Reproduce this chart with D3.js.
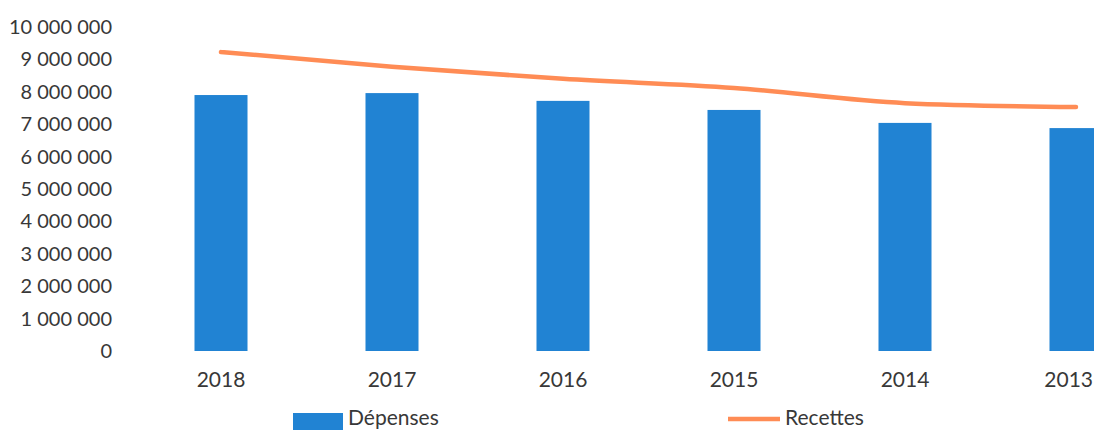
<!DOCTYPE html>
<html>
<head>
<meta charset="utf-8">
<script src="https://cdn.jsdelivr.net/npm/d3@7"></script>
<style>
  html, body { margin: 0; padding: 0; background: #fff; }
  svg { display: block; }
  text { font-family: Lato, "Noto Sans", sans-serif; fill: #383838; }
</style>
</head>
<body>
<svg id="chart" width="1094" height="430"></svg>
<script>
// Years shown from most recent to oldest
const years = ["2018", "2017", "2016", "2015", "2014", "2013"];
// Dépenses (bars)
const depenses = [7900000, 7960000, 7720000, 7440000, 7040000, 6880000];
// Recettes (line)
const recettes = [9230000, 8770000, 8400000, 8120000, 7650000, 7530000];
// Y-axis ticks
const yTicks = [0, 1000000, 2000000, 3000000, 4000000, 5000000, 6000000, 7000000, 8000000, 9000000, 10000000];

const W = 1094;
const svg = d3.select("#chart");
const barColor = "#2183d3";
const lineColor = "#ff8c55";
const font = "Lato, 'Noto Sans', sans-serif";

const x = d3.scaleBand().domain(years).range([135.5, 1161.5]).paddingInner(0.69).paddingOuter(0.345);
const y = d3.scaleLinear().domain([0, 10000000]).range([351, 27]);

const fmt = v => d3.format(",")(v).replace(/,/g, " ");

// Y axis labels
const yAxis = d3.axisLeft(y).tickValues(yTicks).tickFormat(fmt).tickSize(0).tickPadding(0);
const gy = svg.append("g").attr("transform", "translate(112,0)").call(yAxis);
gy.select(".domain").remove();
gy.selectAll("text").style("font-family", font)
  .style("font-size", "20px").style("fill", "#383838");

// X axis labels
const xAxis = d3.axisBottom(x).tickSize(0).tickPadding(0);
const gx = svg.append("g").attr("transform", "translate(0,372)").call(xAxis);
gx.select(".domain").remove();
gx.selectAll("text").style("font-family", font)
  .style("font-size", "21px").style("fill", "#383838");
// keep the last year label inside the frame
gx.selectAll(".tick").each(function () {
  const t = d3.select(this).select("text");
  const bb = this.getBBox();
  const tr = this.transform.baseVal.consolidate().matrix.e;
  const right = tr + bb.x + bb.width;
  if (right > W - 1) t.attr("dx", (W - 1 - right) + "px");
});

// Bars
svg.append("g").selectAll("rect").data(years).join("rect")
  .attr("x", d => x(d))
  .attr("width", x.bandwidth())
  .attr("y", (d, i) => y(depenses[i]))
  .attr("height", (d, i) => y(0) - y(depenses[i]))
  .attr("fill", barColor);

// Smoothed line
const line = d3.line()
  .x((d, i) => x(years[i]) + x.bandwidth() / 2)
  .y(d => y(d))
  .curve(d3.curveMonotoneX);
svg.append("path").datum(recettes)
  .attr("d", line)
  .attr("fill", "none")
  .attr("stroke", lineColor)
  .attr("stroke-width", 4.5)
  .attr("stroke-linecap", "round");

// Legend
const lg = svg.append("g");
lg.append("rect").attr("x", 293).attr("y", 413).attr("width", 50).attr("height", 17).attr("fill", barColor);
lg.append("text").attr("x", 348).attr("y", 425).style("font-size", "21px").text("Dépenses");
lg.append("line").attr("x1", 728).attr("x2", 780).attr("y1", 419).attr("y2", 419)
  .attr("stroke", lineColor).attr("stroke-width", 4.5);
lg.append("text").attr("x", 785).attr("y", 425).style("font-size", "21px").text("Recettes");
</script>
</body>
</html>
